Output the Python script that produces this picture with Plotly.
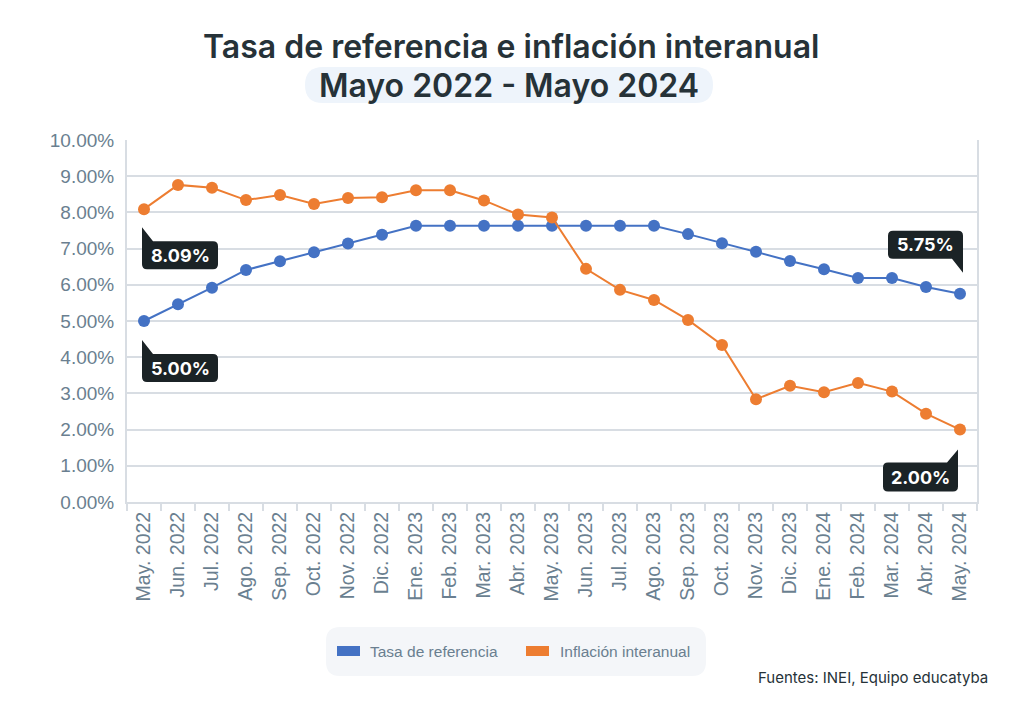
import plotly.graph_objects as go

meses = ["May. 2022", "Jun. 2022", "Jul. 2022", "Ago. 2022", "Sep. 2022", "Oct. 2022",
         "Nov. 2022", "Dic. 2022", "Ene. 2023", "Feb. 2023", "Mar. 2023", "Abr. 2023",
         "May. 2023", "Jun. 2023", "Jul. 2023", "Ago. 2023", "Sep. 2023", "Oct. 2023",
         "Nov. 2023", "Dic. 2023", "Ene. 2024", "Feb. 2024", "Mar. 2024", "Abr. 2024",
         "May. 2024"]
tasa_referencia = [5.00, 5.46, 5.92, 6.41, 6.65, 6.90, 7.14, 7.38, 7.63, 7.63, 7.63, 7.63,
                   7.63, 7.63, 7.63, 7.63, 7.40, 7.15, 6.91, 6.66, 6.43, 6.19, 6.19, 5.94, 5.75]
inflacion = [8.09, 8.76, 8.68, 8.34, 8.48, 8.23, 8.40, 8.42, 8.61, 8.61, 8.33, 7.94,
             7.86, 6.44, 5.86, 5.58, 5.03, 4.34, 2.84, 3.21, 3.03, 3.29, 3.05, 2.44, 2.00]
y_ticks = [0, 1, 2, 3, 4, 5, 6, 7, 8, 9, 10]
y_labels = [f"{v:.2f}%" for v in y_ticks]

AZUL = "#4472c4"
NARANJA = "#ed7d31"
GRIS_TXT = "#6a7f90"
GRID = "#d8dde3"
OSCURO = "#1b2326"
FONT = "Inter"
FONT_AX = "Liberation Sans"

# page offset (body margin) and figure size
OFF = 8
W, H = 1008, 696
PL, PR, PT, PB = 127, 977, 140, 502  # plot area in page pixels
L, R, T, B = PL - OFF, W - (PR - OFF), PT - OFF, H - (PB - OFF)
PW, PH = PR - PL, PB - PT


def px(xp):
    return (xp - PL) / PW


def py(yp):
    return (PB - yp) / PH


fig = go.Figure()
fig.add_trace(go.Scatter(x=meses, y=tasa_referencia, mode="lines+markers",
                         name="Tasa de referencia", line=dict(color=AZUL, width=2),
                         marker=dict(color=AZUL, size=12), showlegend=False))
fig.add_trace(go.Scatter(x=meses, y=inflacion, mode="lines+markers",
                         name="Inflación interanual", line=dict(color=NARANJA, width=2),
                         marker=dict(color=NARANJA, size=12), showlegend=False))


def rounded_rect_paper(x0, y0, x1, y1, r):
    rx, ry = r / PW, r / PH
    a, b_, c, d = px(x0), py(y0), px(x1), py(y1)
    return (f"M {a+rx},{b_} L {c-rx},{b_} Q {c},{b_} {c},{b_-ry} L {c},{d+ry} "
            f"Q {c},{d} {c-rx},{d} L {a+rx},{d} Q {a},{d} {a},{d+ry} L {a},{b_-ry} "
            f"Q {a},{b_} {a+rx},{b_} Z")


shapes = []
shapes.append(dict(type="path", xref="paper", yref="paper",
                   path=rounded_rect_paper(305, 67, 713, 103, 18),
                   fillcolor="#eef4fb", line=dict(width=0), layer="below"))
shapes.append(dict(type="path", xref="paper", yref="paper",
                   path=rounded_rect_paper(326, 627, 706, 676, 14),
                   fillcolor="#f4f6f9", line=dict(width=0), layer="below"))
shapes.append(dict(type="rect", xref="paper", yref="paper",
                   x0=px(337), x1=px(360), y0=py(646), y1=py(656),
                   fillcolor=AZUL, line=dict(width=0)))
shapes.append(dict(type="rect", xref="paper", yref="paper",
                   x0=px(526), x1=px(549), y0=py(646), y1=py(656),
                   fillcolor=NARANJA, line=dict(width=0)))


def bubble(l, r, t, b, tail, tip, w=11, rr=5):
    if tail == "tl":
        return (f"M {l},{tip} L {l+w},{t} L {r-rr},{t} Q {r},{t} {r},{t-rr} L {r},{b+rr} "
                f"Q {r},{b} {r-rr},{b} L {l+rr},{b} Q {l},{b} {l},{b+rr} Z")
    if tail == "br":
        return (f"M {r},{tip} L {r-w},{b} L {l+rr},{b} Q {l},{b} {l},{b+rr} L {l},{t-rr} "
                f"Q {l},{t} {l+rr},{t} L {r-rr},{t} Q {r},{t} {r},{t-rr} Z")
    return (f"M {r},{tip} L {r-w},{t} L {l+rr},{t} Q {l},{t} {l},{t-rr} L {l},{b+rr} "
            f"Q {l},{b} {l+rr},{b} L {r-rr},{b} Q {r},{b} {r},{b+rr} Z")


callouts = [
    (meses[0], inflacion[0], -2, 74, -32, -60, "tl", -18, f"{inflacion[0]:.2f}%"),
    (meses[0], tasa_referencia[0], -2, 74, -33, -61, "tl", -19, f"{tasa_referencia[0]:.2f}%"),
    (meses[-1], tasa_referencia[-1], -72, 3, 63, 35, "br", 21, f"{tasa_referencia[-1]:.2f}%"),
    (meses[-1], inflacion[-1], -77, -2, -33, -62, "tr", -20, f"{inflacion[-1]:.2f}%"),
]
annotations = []
for (xc, yv, l, r, t, b, tail, tip, txt) in callouts:
    shapes.append(dict(type="path", xref="x", yref="y", xsizemode="pixel",
                       ysizemode="pixel", xanchor=xc, yanchor=yv,
                       path=bubble(l, r, t, b, tail, tip),
                       fillcolor=OSCURO, line=dict(width=0)))
    annotations.append(dict(x=xc, y=yv, xref="x", yref="y", showarrow=False,
                            xanchor="center", yanchor="middle",
                            xshift=(l + r) / 2, yshift=(t + b) / 2, text=txt,
                            font=dict(family=FONT, size=18, color="white", weight=700)))


def label(xp, yp, text, size, color, family=FONT, weight=400, xanchor="center"):
    annotations.append(dict(x=px(xp), y=py(yp), xref="paper", yref="paper", showarrow=False,
                            xanchor=xanchor, yanchor="middle", text=text,
                            font=dict(family=family, size=size, color=color, weight=weight)))


label(511, 46, "Tasa de referencia e inflación interanual", 32, "#263238", weight=600)
label(509, 85, "Mayo 2022 - Mayo 2024", 32, "#263238", weight=600)
label(368, 651, "Tasa de referencia", 15.5, GRIS_TXT, family=FONT_AX, xanchor="left")
label(558, 651, "Inflación interanual", 15.5, GRIS_TXT, family=FONT_AX, xanchor="left")
label(990, 677, "Fuentes: INEI, Equipo educatyba", 15, "#263238", xanchor="right")

fig.update_layout(
    width=W, height=H, margin=dict(l=L, r=R, t=T, b=B, autoexpand=False),
    paper_bgcolor="white", plot_bgcolor="white",
    shapes=shapes, annotations=annotations,
    xaxis=dict(type="category", range=[-0.5, len(meses) - 0.5], autorange=False,
               tickangle=-90, tickson="boundaries", ticks="outside",
               ticklen=7, tickcolor=GRID, tickwidth=2, showline=True, linecolor=GRID,
               linewidth=2, showgrid=False,
               tickfont=dict(family=FONT_AX, size=19.5, color=GRIS_TXT)),
    yaxis=dict(range=[0, 10], autorange=False, tickvals=y_ticks, ticktext=y_labels,
               showgrid=True, gridcolor=GRID, gridwidth=2, zeroline=False,
               showline=True, mirror=True, linecolor=GRID, linewidth=2, ticks="",
               ticklabelstandoff=7,
               tickfont=dict(family=FONT_AX, size=19, color=GRIS_TXT)),
)

fig.write_html("out.html")
